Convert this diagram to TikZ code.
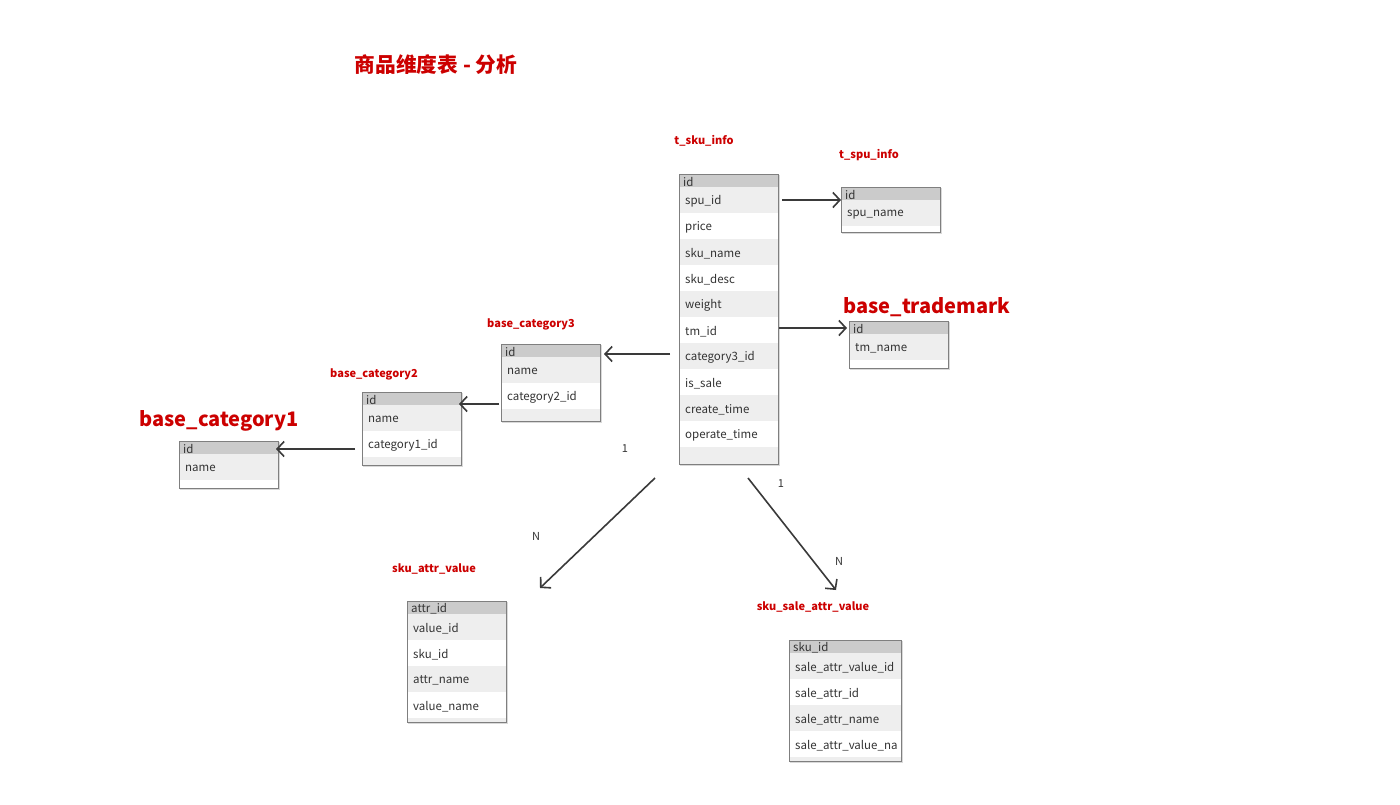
\documentclass[tikz,border=0pt]{standalone}
\usepackage{fontspec}
\setmainfont{Noto Sans CJK SC}
\usetikzlibrary{arrows.meta}
\definecolor{hdrc}{HTML}{CBCBCB}
\definecolor{rowc}{HTML}{EEEEEE}
\definecolor{bordc}{HTML}{7F7F7F}
\definecolor{redc}{HTML}{CC0000}
\definecolor{txtc}{HTML}{333333}
\definecolor{arrc}{HTML}{3A3A3A}
\tikzset{
  hdrtext/.style={anchor=west,inner sep=0pt,text=txtc,font=\fontsize{11.5}{13}\selectfont},
  rowtext/.style={anchor=west,inner sep=0pt,text=txtc,font=\fontsize{11.5}{13}\selectfont},
  smalltitle/.style={inner sep=0pt,text=redc,font=\bfseries\fontsize{11}{13}\selectfont},
  bigtitle/.style={inner sep=0pt,text=redc,font=\bfseries\fontsize{20}{24}\selectfont},
  card/.style={inner sep=0pt,text=txtc,font=\fontsize{11}{13}\selectfont},
  border/.style={draw=bordc,line width=1pt},
  shade/.style={draw=black!15,line width=1.5pt},
  rel/.style={draw=arrc,line width=1.6pt,-{Straight Barb[length=7pt,width=15pt,line width=1.6pt]}}
}
% #1 name, #2 x, #3 ytop, #4 width, #5 header, #6 rows, #7 total height, #8 number of rows
\newcommand\dbtable[8]{%
  \draw[shade] (#2+1.5,#3+1.5) rectangle ++(#4,#7);
  \fill[white] (#2,#3) rectangle ++(#4,#7);
  \fill[hdrc] (#2,#3) rectangle ++(#4,13);
  \node[hdrtext] (#1-h) at (#2+4,#3+7.5) {#5};
  \foreach \r [count=\i] in {#6} {
    \pgfmathsetmacro\yt{#3+13+(\i-1)*26}
    \ifodd\i \fill[rowc] (#2,\yt) rectangle ++(#4,26);\fi
    \node[rowtext] (#1-\i) at (#2+6,\yt+14.5) {\r};
  }
  \pgfmathsetmacro\yb{#3+13+#8*26}
  \ifodd#8\else \fill[rowc] (#2,\yb) rectangle (#2+#4,#3+#7);\fi
  \draw[border] (#2,#3) rectangle ++(#4,#7);
}
\begin{document}
\begin{tikzpicture}[x=1pt,y=-1pt]
\useasboundingbox[fill=white] (0,0) rectangle (1400,804);

\node[inner sep=0pt,text=redc,font=\bfseries\fontsize{20.7}{24}\selectfont] (title) at (436,65) {商品维度表 - 分析};

% tables
\dbtable{sku}{679}{174}{99}{id}{spu\_id,price,sku\_name,sku\_desc,weight,tm\_id,category3\_id,is\_sale,create\_time,operate\_time}{290}{10}
\node[smalltitle] (skut) at (704,141) {t\_sku\_info};

\dbtable{spu}{841}{187}{99}{id}{spu\_name}{45}{1}
\node[smalltitle] (sput) at (869,155) {t\_spu\_info};

\dbtable{tm}{849}{321}{99}{id}{tm\_name}{47}{1}
\node[bigtitle] (tmt) at (927,307) {base\_trademark};

\dbtable{cthree}{501}{344}{99}{id}{name,category2\_id}{77}{2}
\node[smalltitle] (cthreet) at (531,324) {base\_category3};

\dbtable{ctwo}{362}{392}{99}{id}{name,category1\_id}{73}{2}
\node[smalltitle] (ctwot) at (374,374) {base\_category2};

\dbtable{cone}{179}{441}{99}{id}{name}{47}{1}
\node[bigtitle] (conet) at (219,421) {base\_category1};

\dbtable{attr}{407}{601}{99}{attr\_id}{value\_id,sku\_id,attr\_name,value\_name}{121}{4}
\node[smalltitle] (attrt) at (434,569) {sku\_attr\_value};

\dbtable{sale}{789}{640}{112}{sku\_id}{sale\_attr\_value\_id,sale\_attr\_id,sale\_attr\_name,sale\_attr\_value\_na}{121}{4}
\node[smalltitle] (salet) at (813,607) {sku\_sale\_attr\_value};

% connector end points
\coordinate (spuS) at (782,200); \coordinate (spuE) at (841,200);
\coordinate (tmS) at (779,328);  \coordinate (tmE) at (847,328);
\coordinate (c3S) at (670,354);  \coordinate (c3E) at (604,354);
\coordinate (c2S) at (499,404);  \coordinate (c2E) at (459,404);
\coordinate (c1S) at (355,449);  \coordinate (c1E) at (276,449);
\coordinate (avS) at (655,478);  \coordinate (avE) at (540,588);
\coordinate (saS) at (748,478);  \coordinate (saE) at (836,590);

\draw[rel] (spuS) -- (spuE);
\draw[rel] (tmS) -- (tmE);
\draw[rel] (c3S) -- (c3E);
\draw[rel] (c2S) -- (c2E);
\draw[rel] (c1S) -- (c1E);
\draw[rel] (avS) -- (avE);
\draw[rel] (saS) -- (saE);

\node[card] (n1) at (625,449) {1};
\node[card] (n2) at (536,536) {N};
\node[card] (n3) at (781,484) {1};
\node[card] (n4) at (839,561) {N};
\end{tikzpicture}
\end{document}
